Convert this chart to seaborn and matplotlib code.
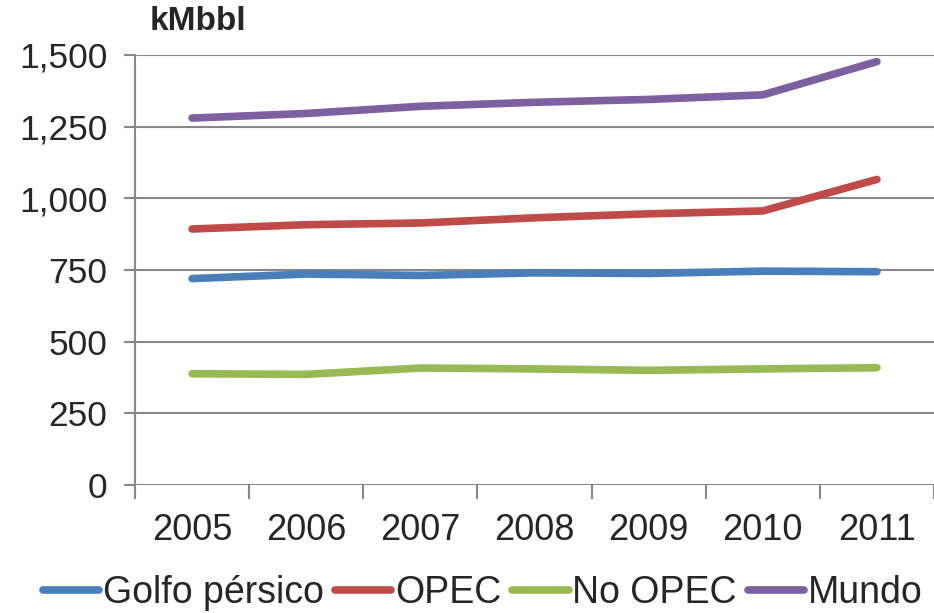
import numpy as np
import pandas as pd
import seaborn as sns
import matplotlib
matplotlib.use("Agg")
import matplotlib.pyplot as plt

# datos (kMbbl)
years = ["2005", "2006", "2007", "2008", "2009", "2010", "2011"]
golfo = [720, 736, 731, 740, 738, 746, 744]
opec = [893, 908, 914, 932, 946, 956, 1066]
no_opec = [388, 386, 408, 405, 400, 405, 409]
mundo = [1280, 1296, 1321, 1335, 1345, 1361, 1477]
series_names = ["Golfo pérsico", "OPEC", "No OPEC", "Mundo"]
colors = ["#4A7EBB", "#BE4B48", "#98B954", "#7D60A0"]

df = pd.DataFrame({
    "year": years * 4,
    "value": golfo + opec + no_opec + mundo,
    "serie": np.repeat(series_names, len(years)),
})
df["x"] = df["year"].map({y: i for i, y in enumerate(years)})

sns.set_style("white")
plt.rcParams["font.family"] = ["Liberation Sans", "DejaVu Sans"]

fig = plt.figure(figsize=(9.34, 6.13), dpi=100)
ax = fig.add_axes([135 / 934, 128 / 613, 799 / 934, 430 / 613])

sns.lineplot(data=df, x="x", y="value", hue="serie", hue_order=series_names,
             palette=colors, linewidth=5.5, ax=ax, legend=False,
             solid_capstyle="round")

gray = "#878787"
ax.set_xlim(-0.5, len(years) - 0.5)
ax.set_ylim(0, 1500)
ax.set_yticks(np.arange(0, 1501, 250))
ax.set_yticklabels([f"{v:,}" for v in range(0, 1501, 250)], fontsize=25.5)
ax.yaxis.grid(True, color=gray, linewidth=1.5)
ax.set_axisbelow(True)

ax.set_xticks(np.arange(-0.5, len(years), 1.0))
ax.set_xticklabels([])
ax.set_xticks(np.arange(len(years)), minor=True)
ax.set_xticklabels(years, minor=True, fontsize=26)
ax.tick_params(axis="x", which="major", direction="out", length=10,
               color=gray, width=1.5, bottom=True)
ax.tick_params(axis="x", which="minor", length=0, pad=20)
ax.tick_params(axis="y", direction="out", length=8, color=gray, width=1.5,
               left=True, pad=12)

for s in ["top", "right", "bottom"]:
    ax.spines[s].set_visible(False)
ax.spines["left"].set_color(gray)
ax.spines["left"].set_linewidth(1.5)
ax.set_xlabel("")
ax.set_ylabel("")

fig.text(198 / 934, 1 - 22 / 613, "kMbbl", fontsize=24, fontweight="bold",
         ha="center", va="center")

handles = [plt.Line2D([0], [0], color=c, linewidth=5.5, solid_capstyle="round")
           for c in colors]
fig.legend(handles, series_names, loc="center", bbox_to_anchor=(0.517, 1 - 593 / 613),
           ncol=4, frameon=False, fontsize=27, handlelength=1.5,
           handletextpad=0.1, columnspacing=0.3, borderaxespad=0)

fig.savefig("out.png", dpi=100)
